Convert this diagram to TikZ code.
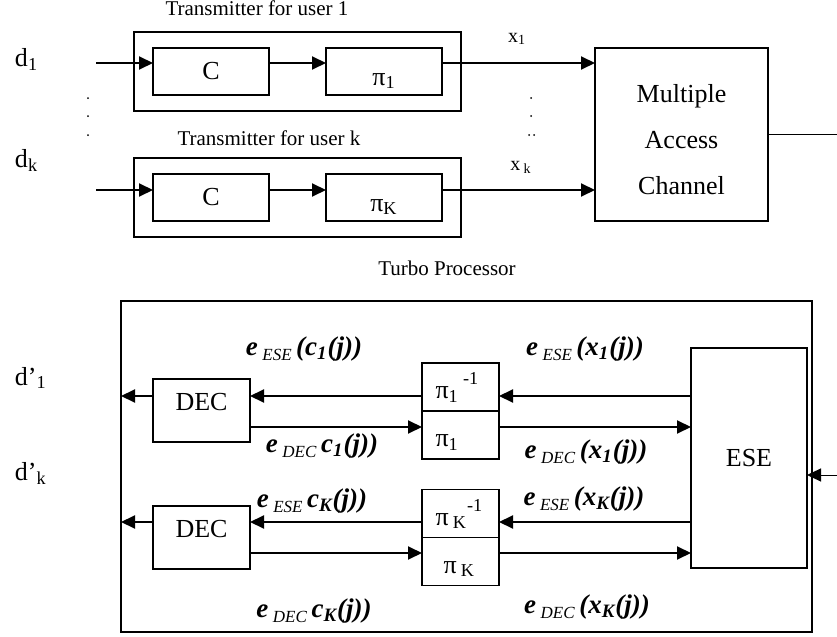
\documentclass[tikz,border=0pt]{standalone}
\usepackage{fontspec}
\setmainfont{Liberation Serif}
\usetikzlibrary{arrows.meta}

% extrinsic information labels: e_{src}(...)
\newcommand{\extr}[2]{\textbf{\textit{e}}\,\raisebox{-2.5pt}{\fontsize{8.5}{9}\selectfont\textit{#1}}\,\textbf{\textit{#2}}}
% raised inverse mark for the deinterleavers
\newcommand{\inv}{\raisebox{2.5pt}{\textsuperscript{-1}}}

\begin{document}
\begin{tikzpicture}[x=0.5pt, y=-0.5pt, >={Triangle[length=7pt,width=6.5pt]},
    every node/.style={inner sep=0pt, outer sep=0pt, font=\fontsize{13}{15}\selectfont},
    blk/.style={draw, line width=0.7pt},
    frame/.style={draw, line width=1pt},
    arr/.style={->, line width=1pt},
    thin arr/.style={->, line width=0.5pt},
    lbl/.style={font=\fontsize{10.5}{12}\selectfont},
    sig/.style={font=\fontsize{13.5}{15}\selectfont},
    dectxt/.style={text height=9pt, text depth=9pt},
    toppi/.style={text height=13.5pt, text depth=0pt},
    pitxt/.style={text width=25pt, align=left, text height=11.5pt, text depth=0pt}]
  \useasboundingbox (0,0) rectangle (837,637);

  % transmitters
  \node[lbl, anchor=base] (t1) at (257,16) {Transmitter for user 1};
  \node[frame, minimum width=163.5pt, minimum height=39.5pt] (tx1) at (297.5,71.5) {};
  \node[blk, minimum width=58pt, minimum height=23.5pt] (c1) at (211,71.5) {C};
  \node[blk, toppi, minimum width=58pt, minimum height=23.5pt] (p1) at (384,71.5) {π\textsubscript{1}};
  \node[lbl, anchor=base] (tk) at (269,145) {Transmitter for user k};
  \node[frame, minimum width=163.5pt, minimum height=39.5pt] (txk) at (297.5,197.5) {};
  \node[blk, minimum width=58pt, minimum height=23.5pt] (ck) at (211,197.5) {C};
  \node[blk, toppi, minimum width=58pt, minimum height=23.5pt] (pk) at (384,197.5) {π\textsubscript{K}};
  \node[anchor=base west] (d1) at (15,67) {d\textsubscript{1}};
  \node[anchor=base west] (dk) at (15,167) {d\textsubscript{k}};
  \node[font=\fontsize{10}{12}\selectfont, anchor=base] (x1) at (517,42) {x\textsubscript{1}};
  \node[font=\fontsize{10}{12}\selectfont, anchor=base] (xk) at (521,170) {x\,\textsubscript{k}};
  \foreach \y in {98,116,135} \fill (88,\y) circle (0.5pt);
  \foreach \y in {98,116} \fill (531,\y) circle (0.5pt);
  \fill (529,135) circle (0.5pt) (534,135) circle (0.5pt);

  % channel
  \node[blk, minimum width=86.5pt, minimum height=86.5pt] (mac) at (681.5,134.5) {};
  \node[align=center, font=\fontsize{13}{23}\selectfont] (mactxt) at (681.5,140) {Multiple\\Access\\Channel};

  \coordinate (in1) at (96,63);
  \coordinate (ink) at (96,190);
  \coordinate (out) at (837,134.5);
  \draw[arr] (in1) -- (c1.west |- in1);
  \draw[arr] (c1.east |- in1) -- (p1.west |- in1);
  \draw[arr] (p1.east |- in1) -- (mac.west |- in1);
  \draw[arr] (ink) -- (ck.west |- ink);
  \draw[arr] (ck.east |- ink) -- (pk.west |- ink);
  \draw[arr] (pk.east |- ink) -- (mac.west |- ink);
  \draw[line width=0.5pt] (mac.east) -- (out);

  % turbo processor
  \node[lbl, anchor=base] (tp) at (447,275) {Turbo Processor};
  \node[frame, minimum width=345.5pt, minimum height=165.5pt] (turbo) at (466.5,466.5) {};
  \node[blk, dectxt, minimum width=48.5pt, minimum height=31.5pt] (dec1) at (201.5,410.5) {DEC};
  \node[blk, dectxt, minimum width=48.5pt, minimum height=31.5pt] (deck) at (201.5,537.5) {DEC};
  \node[blk, pitxt, minimum width=38.5pt, minimum height=24pt] (pi1i) at (460.5,387) {π\textsubscript{1}\,\inv};
  \node[blk, pitxt, minimum width=38.5pt, minimum height=24pt] (pi1) at (460.5,435) {π\textsubscript{1}};
  \node[blk, pitxt, minimum width=38.5pt, minimum height=24pt] (piki) at (460.5,513.5) {π\,\textsubscript{K}\inv};
  \node[blk, pitxt, minimum width=38.5pt, minimum height=24pt] (pik) at (460.5,561.5) {\hspace{4pt}π\,\textsubscript{K}};
  \node[blk, minimum width=58pt, minimum height=110pt] (ese) at (749,458) {ESE};
  \node[anchor=base west] (dd1) at (15,385) {d’\textsubscript{1}};
  \node[anchor=base west] (ddk) at (15,480) {d’\textsubscript{k}};

  \coordinate (r1) at (0,396);
  \coordinate (r2) at (0,427);
  \coordinate (r3) at (0,522);
  \coordinate (r4) at (0,553);
  \coordinate (fb) at (837,475);
  \draw[arr] (ese.west |- r1) -- (pi1i.east |- r1);
  \draw[arr] (pi1i.west |- r1) -- (dec1.east |- r1);
  \draw[arr] (dec1.west |- r1) -- (turbo.west |- r1);
  \draw[arr] (dec1.east |- r2) -- (pi1.west |- r2);
  \draw[arr] (pi1.east |- r2) -- (ese.west |- r2);
  \draw[arr] (ese.west |- r3) -- (piki.east |- r3);
  \draw[arr] (piki.west |- r3) -- (deck.east |- r3);
  \draw[arr] (deck.west |- r3) -- (turbo.west |- r3);
  \draw[arr] (deck.east |- r4) -- (pik.west |- r4);
  \draw[arr] (pik.east |- r4) -- (ese.west |- r4);
  \draw[thin arr] (fb) -- (ese.east |- fb);

  % extrinsic information
  \node[sig] (ec1) at (304,349) {\extr{ESE}{(c\textsubscript{1}(j))}};
  \node[sig] (dc1) at (322,446) {\extr{DEC}{c\textsubscript{1}(j))}};
  \node[sig] (eck) at (312,501) {\extr{ESE}{c\textsubscript{K}(j))}};
  \node[sig] (dck) at (314,611) {\extr{DEC}{c\textsubscript{K}(j))}};
  \node[sig] (ex1) at (585,349) {\extr{ESE}{(x\textsubscript{1}(j))}};
  \node[sig] (dx1) at (586,452) {\extr{DEC}{(x\textsubscript{1}(j))}};
  \node[sig] (exk) at (584,499) {\extr{ESE}{(x\textsubscript{K}(j))}};
  \node[sig] (dxk) at (587,607) {\extr{DEC}{(x\textsubscript{K}(j))}};
\end{tikzpicture}
\end{document}
